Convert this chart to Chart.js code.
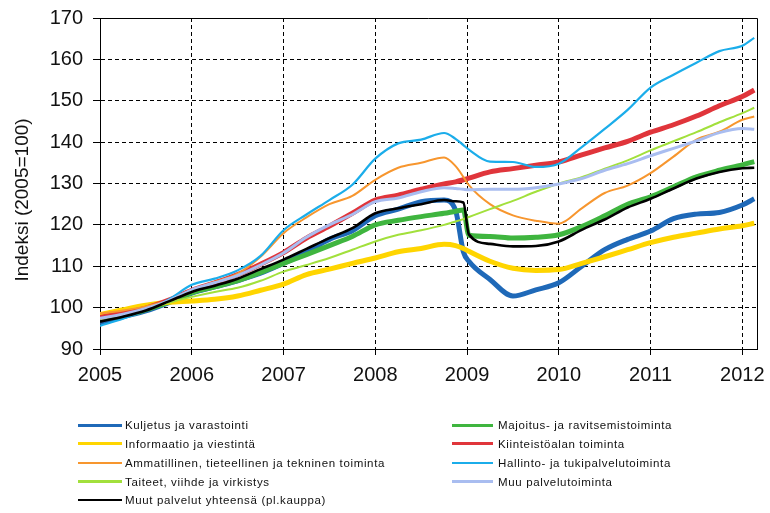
<!DOCTYPE html>
<html><head><meta charset="utf-8">
<script src="https://cdn.jsdelivr.net/npm/chart.js@4.4.1/dist/chart.umd.min.js"></script>
<style>
html,body{margin:0;padding:0;background:#fff;}
#wrap{position:relative;width:770px;height:513px;overflow:hidden;}
canvas{position:absolute;left:0;top:0;}
.lg{position:absolute;font-family:"Liberation Sans",Arial,sans-serif;font-size:11.5px;letter-spacing:0.65px;color:#111;white-space:nowrap;line-height:14px;}
.sw{position:absolute;}
</style></head><body>
<div id="wrap"><canvas id="c" width="770" height="513"></canvas><div id="legend"></div></div>
<script>
// Time (decimal years)
const time = [2005, 2005.25, 2005.5, 2005.75, 2006, 2006.25, 2006.5, 2006.75, 2007, 2007.25, 2007.5, 2007.75,
  2008, 2008.25, 2008.5, 2008.75, 2008.875, 2008.96, 2009.02, 2009.25, 2009.5, 2009.75,
  2010, 2010.25, 2010.5, 2010.75, 2011, 2011.25, 2011.5, 2011.75, 2012, 2012.13];

const kuljetus = [96.3, 97.8, 99.2, 101.2, 103.5, 105, 106.5, 108.3, 110.7, 113.5, 116.5, 118.6,
  122.2, 123.8, 125.6, 126, 123.5, 113.5, 111.2, 106.8, 102.8, 104.3,
  106, 110, 114, 116.5, 118.5, 121.5, 122.6, 123, 124.8, 126.3];
const majoitus = [97.2, 98, 99.5, 101.3, 103.6, 105, 106.5, 108.5, 110.7, 112.8, 115, 117.2,
  120, 121.1, 122, 122.8, 123.3, 123.6, 117.5, 117.2, 116.8, 117,
  117.6, 119.6, 122.2, 125, 126.8, 129.2, 131.6, 133.2, 134.5, 135.3];
const informaatio = [98.3, 99.5, 100.6, 101.3, 101.6, 102, 102.8, 104.2, 105.7, 108, 109.3, 110.7,
  112, 113.5, 114.3, 115.3, 115, 114.3, 113.6, 111.2, 109.5, 109,
  109.2, 110.7, 112.3, 114, 115.7, 117, 118, 119, 119.8, 120.4];
const kiinteisto = [97.6, 98.7, 99.9, 101.8, 104.2, 106, 108, 110.5, 113.3, 116.8, 119.7, 122.8,
  126, 127.2, 128.6, 129.9, 130.4, 130.9, 131.3, 132.8, 133.6, 134.4,
  135.2, 136.9, 138.6, 140.2, 142.4, 144.2, 146.3, 148.8, 151, 152.6];
const ammatillinen = [98.6, 99.3, 100.3, 101.8, 104.3, 106.2, 108.2, 112.3, 118, 121.8, 125, 127,
  130.9, 133.8, 135, 136.3, 134.2, 131.6, 129.6, 125, 122.3, 121,
  120.3, 124, 127.7, 129.5, 132.5, 136.5, 140.6, 142.5, 145.4, 146.2];
const hallinto = [95.6, 97.3, 99.4, 102, 105.5, 107, 109, 112.5, 118.7, 122.5, 126, 129.7,
  136, 139.7, 140.6, 142.2, 140.8, 139.3, 138.2, 135.3, 135.2, 134,
  134.8, 138.8, 143.2, 147.8, 153.2, 156.3, 159.2, 162, 163.3, 165.2];
const taiteet = [97.3, 98.3, 99.6, 101.2, 102.6, 103.8, 104.8, 106.5, 108.7, 110.3, 112, 114,
  116, 117.6, 118.7, 120, 120.8, 121.4, 121.9, 123.8, 125.8, 128,
  130, 131.5, 133.6, 135.6, 138, 140.2, 142.4, 144.8, 147, 148.3];
const muuPalvelu = [97.4, 98.4, 99.8, 101.7, 104.3, 106, 107.8, 110.3, 113.2, 117, 120, 122.5,
  125.6, 126.5, 128, 129, 128.8, 128.6, 128.5, 128.6, 128.6, 129,
  129.9, 131.2, 133.2, 134.8, 136.7, 138.5, 140.3, 142.3, 143.3, 143.1];
const muutYhteensa = [96.6, 97.8, 99.3, 101.5, 103.8, 105.3, 107, 109.3, 111.6, 114.2, 116.8, 119.2,
  122.8, 124, 125, 126, 125.7, 125.4, 117.7, 115.4, 114.8, 114.9,
  116, 118.8, 121.3, 124.2, 126.3, 128.8, 131.2, 132.8, 133.7, 133.8];

const seriesNames = [
  "Kuljetus ja varastointi",
  "Majoitus- ja ravitsemistoiminta",
  "Informaatio ja viestintä",
  "Kiinteistöalan toiminta",
  "Ammatillinen, tieteellinen ja tekninen toiminta",
  "Hallinto- ja tukipalvelutoiminta",
  "Taiteet, viihde ja virkistys",
  "Muu palvelutoiminta",
  "Muut palvelut yhteensä (pl.kauppa)"
];
const seriesValues = [kuljetus, majoitus, informaatio, kiinteisto, ammatillinen, hallinto, taiteet, muuPalvelu, muutYhteensa];
const seriesColors = ["#1f69b8", "#3fb53f", "#ffd500", "#e0353b", "#f7962e", "#1badea", "#a2e03c", "#a9bdf0", "#000000"];
const seriesWidths = [5, 5, 5, 5, 2, 2.2, 2, 3, 2.6];

const xTickLabels = ["2005", "2006", "2007", "2008", "2009", "2010", "2011", "2012"];
const yTickLabels = ["90", "100", "110", "120", "130", "140", "150", "160", "170"];
const yTitle = "Indeksi (2005=100)";

const FONT = "'Liberation Sans', Arial, sans-serif";

const datasets = seriesValues.map((vals, i) => ({
  label: seriesNames[i],
  data: vals.map((v, j) => ({x: time[j], y: v})),
  borderColor: seriesColors[i],
  backgroundColor: seriesColors[i],
  borderWidth: seriesWidths[i],
  pointRadius: 0,
  fill: false,
  cubicInterpolationMode: 'monotone',
  order: -i
}));

const framePlugin = {
  id: 'frame',
  afterDraw(chart) {
    const {ctx, chartArea: a} = chart;
    ctx.save();
    ctx.strokeStyle = '#000';
    ctx.lineWidth = 1;
    ctx.beginPath();
    ctx.moveTo(a.left, a.top + 0.5);
    ctx.lineTo(a.right + 0.5, a.top + 0.5);
    ctx.lineTo(a.right + 0.5, a.bottom);
    ctx.stroke();
    ctx.translate(23, 200);
    ctx.rotate(-Math.PI / 2);
    ctx.font = "19px " + FONT;
    ctx.fillStyle = '#111';
    ctx.textAlign = 'center';
    ctx.textBaseline = 'middle';
    ctx.fillText(yTitle, 0, 0);
    ctx.restore();
  }
};

const chart = new Chart(document.getElementById('c'), {
  type: 'line',
  data: {datasets},
  plugins: [framePlugin],
  options: {
    responsive: false,
    animation: false,
    layout: {padding: {left: 4, top: 18, right: 13, bottom: 0}},
    plugins: {legend: {display: false}, tooltip: {enabled: false}},
    scales: {
      x: {
        type: 'linear',
        min: 2005, max: 2012.16,
        afterFit: s => { s.height = 164; s.paddingLeft = 0; s.paddingRight = 0; },
        grid: {color: '#000', lineWidth: 1, tickLength: 6, tickColor: '#000'},
        border: {color: '#000', width: 1, dash: [4, 3]},
        ticks: {
          stepSize: 1, includeBounds: false, padding: 8, color: '#111',
          font: {family: FONT, size: 20},
          maxRotation: 0, autoSkip: false,
          callback: v => xTickLabels[Math.round(v - 2005)] ?? ''
        }
      },
      y: {
        min: 90, max: 170,
        afterFit: s => { s.width = 96; s.paddingTop = 0; s.paddingBottom = 0; },
        grid: {color: '#000', lineWidth: 1, tickLength: 7, tickColor: '#000'},
        border: {color: '#000', width: 1, dash: [4, 3]},
        ticks: {
          stepSize: 10, padding: 10, color: '#111',
          font: {family: FONT, size: 20},
          callback: v => yTickLabels[Math.round((v - 90) / 10)] ?? ''
        }
      }
    }
  }
});

// HTML legend built from chart datasets (two columns)
const legend = document.getElementById('legend');
const leftCol = [0, 2, 4, 6, 8], rightCol = [1, 3, 5, 7];
const rowY = [425, 443.5, 463, 481.5, 500];
function addItem(idx, row, swX, swW, textX) {
  const ds = chart.data.datasets[idx];
  const sw = document.createElement('div');
  sw.className = 'sw';
  const h = ds.borderWidth >= 4 ? 3 : 2.5;
  sw.style.cssText = `left:${swX}px;top:${rowY[row] - h / 2}px;width:${swW}px;height:${h}px;background:${ds.borderColor};`;
  legend.appendChild(sw);
  const t = document.createElement('div');
  t.className = 'lg';
  t.style.left = textX + 'px';
  t.style.top = (rowY[row] - 7) + 'px';
  t.textContent = ds.label;
  legend.appendChild(t);
}
leftCol.forEach((idx, r) => addItem(idx, r, 78, 44, 125));
rightCol.forEach((idx, r) => addItem(idx, r, 452, 41, 498));
</script>
</body></html>
